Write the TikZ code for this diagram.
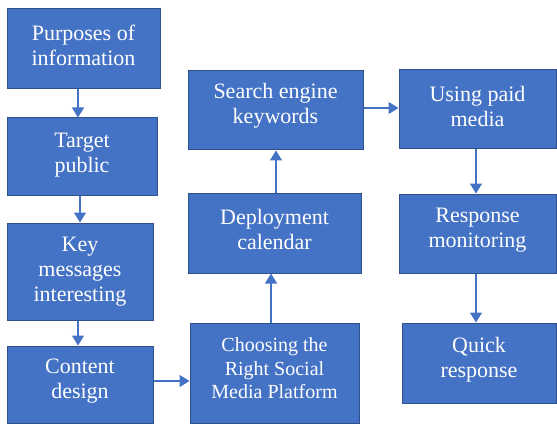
\documentclass[tikz,border=0pt]{standalone}
\usepackage{fontspec}
\setmainfont{Liberation Serif}
\usetikzlibrary{arrows.meta}
\definecolor{boxfill}{HTML}{4472C4}
\definecolor{boxline}{HTML}{2F528F}
\definecolor{arrcol}{HTML}{4472C4}
\tikzset{
  box/.style={draw=boxline, line width=1pt, fill=boxfill, inner sep=0pt},
  txt/.style={text=white, align=center, inner sep=0pt, yshift=3.5pt,
    font=\fontsize{22}{25}\selectfont},
  arr/.style={draw=arrcol, line width=1.3pt, -{Triangle[length=10pt,width=12pt]}}
}
\begin{document}
\begin{tikzpicture}[x=1pt,y=-1pt]
\useasboundingbox (0,0) rectangle (557,425);
\node[box, minimum width=153pt, minimum height=80pt,
  label={[txt]center:{Purposes of\\information}}] (a) at (83.5,49) {};
\node[box, minimum width=150pt, minimum height=77pt,
  label={[txt, yshift=-2.5pt]center:{Target\\public}}] (b) at (82,156.5) {};
\node[box, minimum width=146pt, minimum height=97pt,
  label={[txt, yshift=-3.5pt]center:{Key\\messages\\interesting}}] (c) at (80,271.5) {};
\node[box, minimum width=146pt, minimum height=77pt,
  label={[txt]center:{Content\\design}}] (d) at (80,384.5) {};
\node[box, minimum width=169pt, minimum height=100pt,
  label={[txt, yshift=1pt, font=\fontsize{20}{23.5}\selectfont]center:{Choosing the\\Right Social\\Media Platform}}] (e) at (274.5,373) {};
\node[box, minimum width=173pt, minimum height=80pt,
  label={[txt]center:{Deployment\\calendar}}] (f) at (274.5,233) {};
\node[box, minimum width=175pt, minimum height=79pt,
  label={[txt, yshift=1pt]center:{Search engine\\keywords}}] (g) at (275.5,110.5) {};
\node[box, minimum width=157pt, minimum height=79pt,
  label={[txt]center:{Using paid\\media}}] (h) at (477.5,109.5) {};
\node[box, minimum width=157pt, minimum height=79pt,
  label={[txt]center:{Response\\monitoring}}] (i) at (477.5,233.5) {};
\node[box, minimum width=154pt, minimum height=80pt,
  label={[txt]center:{Quick\\response}}] (j) at (479,363) {};
\draw[arr] ([xshift=-5.5pt]a.south) -- ([xshift=-5.5pt]a.south |- b.north);
\draw[arr] ([xshift=-2pt]b.south) -- ([xshift=-2pt]b.south |- c.north);
\draw[arr] ([xshift=-2pt]c.south) -- ([xshift=-2pt]c.south |- d.north);
\draw[arr] ([yshift=3.5pt]d.east) -- ([yshift=3.5pt]d.east -| e.west);
\draw[arr] ([xshift=-3.5pt]e.north) -- ([xshift=-3.5pt]e.north |- f.south);
\draw[arr] ([xshift=1.5pt]f.north) -- ([xshift=1.5pt]f.north |- g.south);
\draw[arr] ([yshift=2.5pt]g.east) -- ([yshift=2.5pt]g.east -| h.west);
\draw[arr] ([xshift=-1.5pt]h.south) -- ([xshift=-1.5pt]h.south |- i.north);
\draw[arr] ([xshift=-1.5pt]i.south) -- ([xshift=-1.5pt]i.south |- j.north);
\end{tikzpicture}
\end{document}
